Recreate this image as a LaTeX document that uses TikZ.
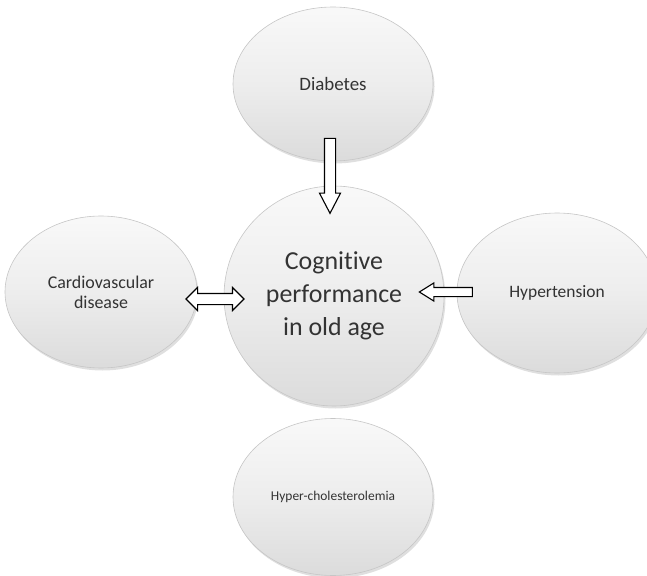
\documentclass[tikz,border=0pt]{standalone}
\usepackage{fontspec}
\setmainfont{Carlito}[Ligatures=NoCommon]
\usetikzlibrary{shapes.geometric,shapes.arrows,shadows}

\begin{document}
\begin{tikzpicture}[
x=1bp, y=-1bp,
    E/.style = {ellipse, draw=gray!45, line width=0.6bp,% bubbles round the centre
                top color=gray!5, bottom color=gray!28, middle color=gray!14,
                drop shadow={opacity=0.25, shadow xshift=1.5bp, shadow yshift=-2.5bp},
                minimum width=200bp, minimum height=154bp,
                inner sep=0pt, align=center, text=black!80,
                font=\fontsize{17.5}{20}\selectfont},
    C/.style = {E, minimum width=220bp, minimum height=220bp,
                font=\fontsize{26}{33}\selectfont},
    A/.style = {single arrow, draw, fill=white, line width=1.1bp,% block arrows
                inner xsep=0pt, inner ysep=5bp,
                single arrow head extend=5bp, single arrow tip angle=55},
    D/.style = {double arrow, draw, fill=white, line width=1.1bp,
                inner xsep=0pt, inner ysep=5bp,
                double arrow head extend=6bp, double arrow tip angle=90},
                        ]
\useasboundingbox (0,0) rectangle (647,576);

\node[E, font=\fontsize{19}{22}\selectfont] (diab) at (333,84)  {Diabetes};
\node[E, minimum width=192bp, minimum height=152bp,
      font=\fontsize{18}{20}\selectfont] (cardio) at (101,292)
      {Cardiovascular\\ disease};
\node[E, minimum height=160bp] (hyper) at (557,293) {Hypertension};
\node[E, minimum height=157bp, font=\fontsize{13.5}{16}\selectfont] (chol) at (333,497)
      {Hyper-cholesterolemia};
\node[C] (cog) at (334,296) {Cognitive\\ performance\\ in old age};

%arrows
\node[A, rotate=-90, minimum height=75bp] (a1) at (330,170.5) {};
\node[D, minimum height=58bp] (a2) at (215,299) {};
\node[A, rotate=180, minimum height=53bp, inner ysep=4bp,
      single arrow head extend=4.5bp, single arrow tip angle=64] (a3) at (449.5,292) {};

\end{tikzpicture}
\end{document}
